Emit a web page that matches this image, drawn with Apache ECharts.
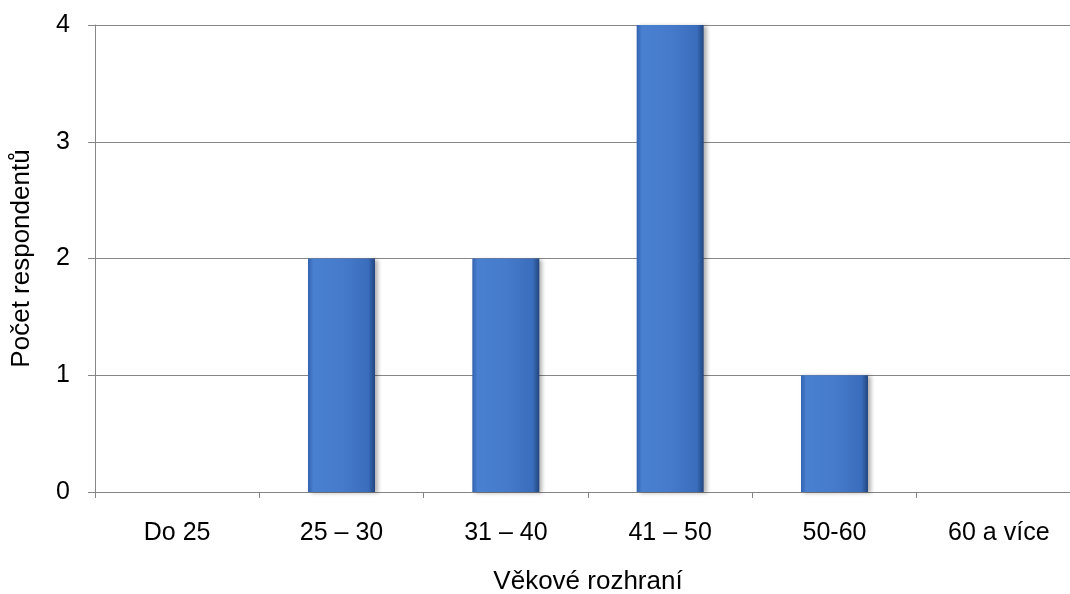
<!DOCTYPE html>
<html>
<head>
<meta charset="utf-8">
<script src="https://cdn.jsdelivr.net/npm/echarts@6/dist/echarts.min.js"></script>
<style>
    html, body { margin: 0; padding: 0; background: #fff; }
    #chart { width: 1070px; height: 594px; }
</style>
</head>
<body>
<div id="chart"></div>
<script>
// Data
const categories = ['Do 25', '25 – 30', '31 – 40', '41 – 50', '50-60', '60 a více'];
const counts = [0, 2, 2, 4, 1, 0];
const yTicks = [0, 1, 2, 3, 4];

const textColor = '#000';
const lineColor = '#868686';
const fontFamily = ['Liberation Sans', 'Arial', 'sans-serif'];

// Bar fill: horizontal gradient, darker on the edges
const barFill = new echarts.graphic.LinearGradient(0, 0, 1, 0, [
    { offset: 0, color: '#3263b0' },
    { offset: 0.08, color: '#4a80d0' },
    { offset: 0.5, color: '#467bcb' },
    { offset: 0.9, color: '#3a6dbc' },
    { offset: 1, color: '#22467f' },
]);

const chart = echarts.init(document.getElementById('chart'), null, { renderer: 'canvas' });

chart.setOption({
    animation: false,
    // plot runs past the right edge, like the reference crop
    grid: { left: 95, width: 986, top: 25, bottom: 102, outerBoundsMode: 'none', containLabel: false },
    xAxis: {
        type: 'category',
        data: categories,
        boundaryGap: true,
        name: 'Věkové rozhraní',
        nameLocation: 'middle',
        nameGap: 77,
        nameTextStyle: { color: textColor, fontSize: 26, fontFamily },
        axisLine: { lineStyle: { color: lineColor, width: 1 } },
        axisTick: { show: true, length: 6, lineStyle: { color: lineColor } },
        axisLabel: { color: textColor, fontSize: 25, fontFamily, margin: 29 },
        splitLine: { show: false },
    },
    yAxis: {
        type: 'value',
        min: yTicks[0],
        max: yTicks[yTicks.length - 1],
        interval: 1,
        name: 'Počet respondentů',
        nameLocation: 'middle',
        nameGap: 60,
        nameRotate: 90,
        nameTextStyle: { color: textColor, fontSize: 26, fontFamily },
        axisLine: { show: true, lineStyle: { color: lineColor, width: 1 } },
        axisTick: { show: true, length: 7, lineStyle: { color: lineColor } },
        axisLabel: { color: textColor, fontSize: 25, fontFamily, margin: 25 },
        splitLine: { show: true, lineStyle: { color: lineColor, width: 1 } },
    },
    series: [{
        type: 'bar',
        data: counts,
        barWidth: 67,
        itemStyle: {
            color: barFill,
            shadowColor: 'rgba(0,0,0,0.3)',
            shadowBlur: 4,
            shadowOffsetX: 3,
            shadowOffsetY: 1,
        },
    }],
});
</script>
</body>
</html>
